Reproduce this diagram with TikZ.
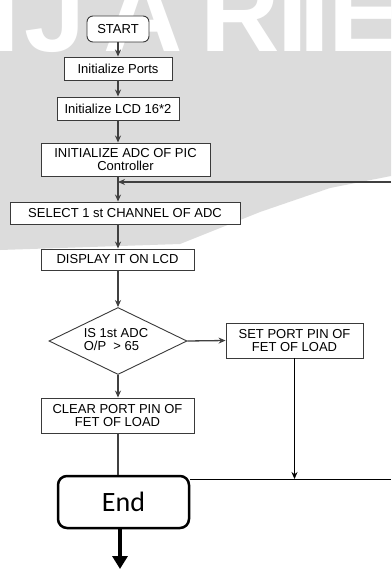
\documentclass[tikz,border=0pt]{standalone}
\usepackage{fontspec}
\setmainfont{Liberation Sans}
\newfontfamily\endfont{Carlito}
\usetikzlibrary{shapes.geometric,arrows.meta}
\definecolor{boxc}{HTML}{3A3A3A}
\definecolor{linec}{HTML}{404040}
\definecolor{wmgray}{HTML}{DCDCDC}
\begin{document}
\begin{tikzpicture}[x=1pt,y=-1pt,
  box/.style={draw=boxc,line width=0.9pt,fill=white,inner sep=0pt,
    font=\fontsize{13}{13}\selectfont,align=center},
  arr/.style={draw=linec,line width=1.3pt,-{Stealth[length=7pt,width=6pt]}},
  thinarr/.style={draw=black,line width=0.8pt,-{Stealth[length=7pt,width=6pt]}},
  plain/.style={draw=linec,line width=1.1pt},
  wm/.style={text=white,font=\bfseries\fontsize{110}{110}\selectfont,anchor=base,inner sep=0pt}
]
\useasboundingbox (0,0) rectangle (391,569);
% watermark
\begin{scope}
\clip (0,0) rectangle (391,569);
\fill[white] (0,0) rectangle (391,569);
\fill[wmgray] (0,0) -- (391,0) -- (391,176) -- (330,188) -- (260,212) -- (180,244) -- (0,250) -- cycle;
\node[wm] (wI) at (5,52) {I};
\node[wm] (wJ) at (55,52) {J};
\node[wm] (wA) at (143,52) {A};
\node[wm] (wR) at (240,52) {R};
\node[wm] (wI2) at (293,52) {I};
\node[wm] (wI3) at (315,52) {I};
\node[wm] (wE) at (365,52) {E};
\end{scope}
% nodes
\node[box,rounded corners=6pt,minimum width=62pt,minimum height=26pt] (start) at (118,29) {START};
\node[box,minimum width=108pt,minimum height=23pt] (ports) at (118,68.5) {Initialize Ports};
\node[box,minimum width=122pt,minimum height=23pt] (lcd) at (118,108.5) {Initialize LCD 16*2};
\node[box,minimum width=169pt,minimum height=33pt] (adc) at (125.5,159.5) {INITIALIZE ADC OF PIC\\Controller};
\node[box,minimum width=230pt,minimum height=22pt] (sel) at (125,213) {SELECT 1 st CHANNEL OF ADC};
\node[box,minimum width=153pt,minimum height=21pt] (disp) at (117.5,259.5) {DISPLAY IT ON LCD};
\node[box,diamond,minimum width=138pt,minimum height=67pt] (dec) at (118,341) {};
\node[font=\fontsize{13}{13}\selectfont,align=left,inner sep=0pt] (dect) at (116,340) {IS 1st ADC\\O/P\ \ > 65};
\node[box,minimum width=137pt,minimum height=35pt] (set) at (294.5,340.5) {SET PORT PIN OF\\FET OF LOAD};
\node[box,minimum width=153pt,minimum height=35pt] (clr) at (117.5,415.5) {CLEAR PORT PIN OF\\FET OF LOAD};
\node[draw=black,line width=2.5pt,rounded corners=9pt,fill=white,minimum width=131pt,minimum height=52pt,inner sep=0pt,font=\endfont\fontsize{28}{28}\selectfont] (end) at (123.5,502) {End};
\coordinate (fbR) at (391,182);
\coordinate (endR) at (391,479);
\coordinate (bot) at (120,569);
% connectors
\draw[arr] (start.south) -- (ports.north);
\draw[arr] (ports.south) -- (lcd.north);
\draw[arr] (lcd.south) -- (start |- adc.north);
\draw[arr] (start |- adc.south) -- (start |- sel.north);
\draw[arr] (fbR) -- (start |- fbR);
\draw[arr] (start |- sel.south) -- (start |- disp.north);
\draw[arr] (start |- disp.south) -- (dec.north);
\draw[arr] (dec.east) -- (set.west);
\draw[arr] (dec.south) -- (start |- clr.north);
\draw[plain] (start |- clr.south) -- (start |- end.north);
\draw[draw=black,line width=0.8pt] (end.east |- endR) -- (endR);
\draw[thinarr] (set.south) -- (set.south |- endR);
\draw[draw=black,line width=4pt,-{Triangle[length=13pt,width=15pt]}] (end.south -| bot) -- (bot);
\end{tikzpicture}
\end{document}
